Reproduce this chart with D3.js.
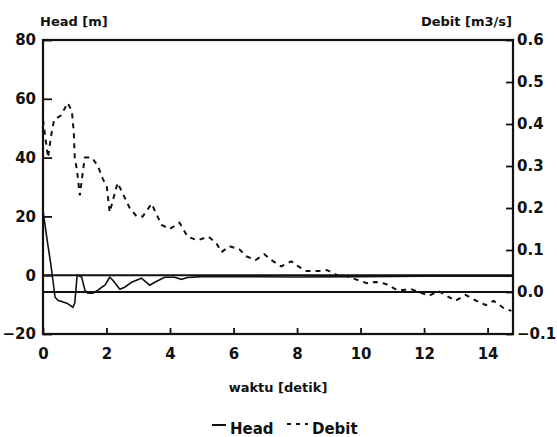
<!DOCTYPE html>
<html>
<head>
<meta charset="utf-8">
<script src="https://cdn.jsdelivr.net/npm/d3@7"></script>
<style>
  body { margin: 0; background: #fff; }
  svg { display: block; }
  text { font-family: "DejaVu Sans", sans-serif; font-weight: bold; fill: #111; }
</style>
</head>
<body>
<div id="chart"></div>
<script>
// time axis (detik)
const xTicks = [0, 2, 4, 6, 8, 10, 12, 14];
const headTicks = [-20, 0, 20, 40, 60, 80];
const debitTicks = [-0.1, 0, 0.1, 0.2, 0.3, 0.4, 0.5, 0.6];

// Head [m]
const headTime = [0, 0.13, 0.25, 0.38, 0.47, 0.75, 0.94, 1.0, 1.07, 1.1, 1.22, 1.32, 1.41, 1.57, 1.73,
    1.85, 1.95, 2.1, 2.2, 2.42, 2.57, 2.79, 3.1, 3.36, 3.52, 3.83, 4.14, 4.36, 4.55, 5.0, 6.0, 8.0,
    10.0, 12.0, 14.8];
const headValue = [22, 12, 3.4, -7.5, -8.5, -9.5, -10.9, -9.5, -0.7, 0, -0.7, -5.1, -6.1, -6.1, -5.1,
    -4.1, -3.4, -0.7, -1.7, -4.8, -4.1, -2.4, -1.0, -3.4, -2.4, -0.7, -0.7, -1.4, -0.8, -0.5, -0.5, -0.6,
    -0.5, -0.3, -0.3];

// Debit [m3/s]
const debitTime = [0, 0.16, 0.25, 0.35, 0.56, 0.78, 0.91, 0.97, 1.0, 1.07, 1.16, 1.26, 1.32, 1.54, 1.73,
    1.88, 2.01, 2.1, 2.35, 2.73, 2.95, 3.14, 3.42, 3.73, 3.99, 4.3, 4.55, 4.86, 5.21, 5.46, 5.62, 5.87,
    6.18, 6.4, 6.69, 6.97, 7.19, 7.5, 7.82, 7.97, 8.29, 8.69, 8.95, 9.32, 9.54, 10.2, 10.48, 10.8,
    11.14, 11.36, 11.58, 12.15, 12.46, 12.71, 12.99, 13.31, 13.65, 13.94, 14.19, 14.5, 14.75];
const debitValue = [0.41, 0.32, 0.37, 0.41, 0.42, 0.45, 0.43, 0.38, 0.32, 0.29, 0.23, 0.29, 0.32, 0.32, 0.30,
    0.27, 0.25, 0.19, 0.26, 0.20, 0.18, 0.18, 0.21, 0.16, 0.15, 0.165, 0.132, 0.123, 0.132, 0.116, 0.095, 0.109,
    0.102, 0.085, 0.076, 0.09, 0.076, 0.061, 0.073, 0.064, 0.05, 0.05, 0.052, 0.038, 0.038, 0.021, 0.024, 0.019,
    0.005, 0.005, 0.007, -0.009, 0.002, -0.009, -0.021, -0.007, -0.021, -0.031, -0.021, -0.038, -0.045];

const width = 557;
const height = 437;
const margin = {top: 40, right: 44, bottom: 103, left: 43};

const svg = d3.select('#chart').append('svg')
    .attr('width', width)
    .attr('height', height);

const x = d3.scaleLinear().domain([0, 14.8]).range([margin.left, width - margin.right]);
const yHead = d3.scaleLinear().domain([-20, 80]).range([height - margin.bottom, margin.top]);
const yDebit = d3.scaleLinear().domain([-0.1, 0.6]).range([height - margin.bottom, margin.top]);

// axes, ticks pointing inward
svg.append('g')
    .attr('transform', 'translate(0,' + (height - margin.bottom) + ')')
    .call(d3.axisBottom(x).tickValues(xTicks).tickSizeInner(-6).tickSizeOuter(0).tickPadding(14)
        .tickFormat(d3.format('d')))
    .call(g => g.select('.domain').remove())
    .call(g => g.selectAll('text').attr('font-size', 15));

svg.append('g')
    .attr('transform', 'translate(' + margin.left + ',0)')
    .call(d3.axisLeft(yHead).tickValues(headTicks).tickSizeInner(-9).tickSizeOuter(0).tickPadding(7))
    .call(g => g.select('.domain').remove())
    .call(g => g.selectAll('text').attr('font-size', 15));

svg.append('g')
    .attr('transform', 'translate(' + (width - margin.right) + ',0)')
    .call(d3.axisRight(yDebit).tickValues(debitTicks).tickSizeInner(-7).tickSizeOuter(0).tickPadding(4)
        .tickFormat(d3.format('.1f')))
    .call(g => g.select('.domain').remove())
    .call(g => g.selectAll('text').attr('font-size', 15));

svg.selectAll('.tick line').attr('stroke', '#111').attr('stroke-width', 1.8);

// frame
svg.append('rect')
    .attr('x', margin.left)
    .attr('y', margin.top)
    .attr('width', width - margin.left - margin.right)
    .attr('height', height - margin.top - margin.bottom)
    .attr('fill', 'none')
    .attr('stroke', '#111')
    .attr('stroke-width', 2.2);

// zero lines of both axes
svg.append('line')
    .attr('x1', margin.left).attr('x2', width - margin.right)
    .attr('y1', yHead(0)).attr('y2', yHead(0))
    .attr('stroke', '#111').attr('stroke-width', 2);

svg.append('line')
    .attr('x1', margin.left).attr('x2', width - margin.right)
    .attr('y1', yDebit(0)).attr('y2', yDebit(0))
    .attr('stroke', '#111').attr('stroke-width', 2);

const headLine = d3.line()
    .x((d, i) => x(headTime[i]))
    .y(d => yHead(d));

const debitLine = d3.line()
    .x((d, i) => x(debitTime[i]))
    .y(d => yDebit(d));

svg.append('path')
    .attr('d', headLine(headValue))
    .attr('fill', 'none')
    .attr('stroke', '#111')
    .attr('stroke-width', 1.6);

svg.append('path')
    .attr('d', debitLine(debitValue))
    .attr('fill', 'none')
    .attr('stroke', '#111')
    .attr('stroke-width', 2)
    .attr('stroke-dasharray', '5,5');

// titles
svg.append('text')
    .attr('x', 40).attr('y', 26)
    .attr('font-size', 13)
    .text('Head [m]');

svg.append('text')
    .attr('x', 512).attr('y', 26)
    .attr('font-size', 13)
    .attr('text-anchor', 'end')
    .text('Debit [m3/s]');

svg.append('text')
    .attr('x', 278).attr('y', 392)
    .attr('font-size', 13)
    .attr('text-anchor', 'middle')
    .text('waktu [detik]');

// legend
const legend = svg.append('g').attr('transform', 'translate(212,434)');
legend.append('line')
    .attr('x1', 0).attr('x2', 14).attr('y1', -9).attr('y2', -9)
    .attr('stroke', '#111').attr('stroke-width', 2);
legend.append('text').attr('x', 18).attr('font-size', 15).text('Head');
legend.append('line')
    .attr('x1', 75).attr('x2', 96).attr('y1', -10).attr('y2', -10)
    .attr('stroke', '#111').attr('stroke-width', 2).attr('stroke-dasharray', '4,5');
legend.append('text').attr('x', 100).attr('font-size', 15).text('Debit');
</script>
</body>
</html>
